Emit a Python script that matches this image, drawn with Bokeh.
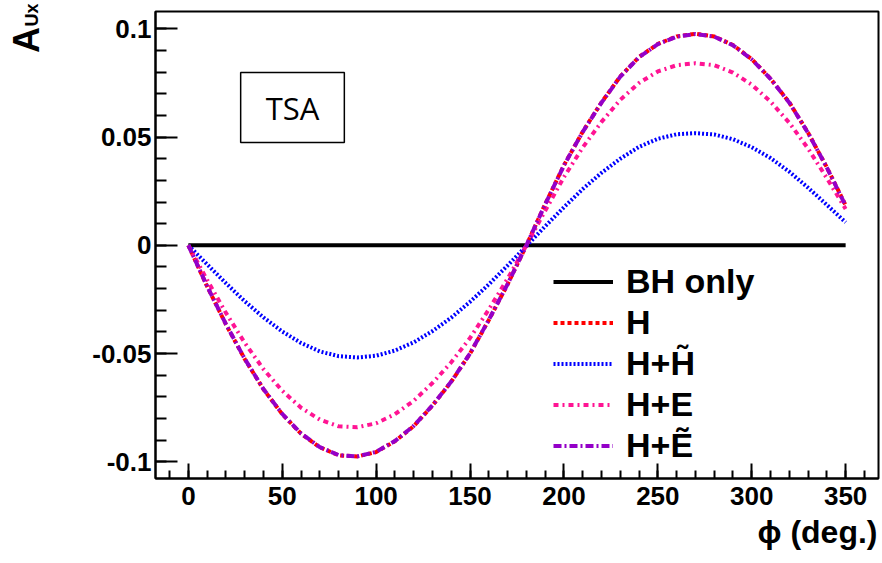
from bokeh.plotting import figure
from bokeh.models import Range1d, FixedTicker, Legend, LegendItem, Label, Title, LinearAxis
from bokeh.embed import file_html
from bokeh.resources import INLINE

phi = [0, 10, 20, 30, 40, 50, 60, 70, 80, 90, 100, 110, 120, 130, 140, 150, 160, 170,
       180, 190, 200, 210, 220, 230, 240, 250, 260, 270, 280, 290, 300, 310, 320, 330, 340, 350]

bh_only = [0.0] * 36

h = [0.0, -0.0190, -0.0365, -0.0525, -0.0665, -0.0780, -0.0870, -0.0933, -0.0970, -0.0975,
     -0.0955, -0.0905, -0.0835, -0.0740, -0.0630, -0.0500, -0.0345, -0.0180,
     0.0000, 0.0190, 0.0370, 0.0525, 0.0660, 0.0780, 0.0870, 0.0930, 0.0965, 0.0977,
     0.0965, 0.0925, 0.0860, 0.0770, 0.0660, 0.0520, 0.0360, 0.0185]

h_ht = [0.0, -0.0088, -0.0175, -0.0258, -0.0333, -0.0398, -0.0451, -0.0490, -0.0512, -0.0518,
        -0.0510, -0.0486, -0.0448, -0.0396, -0.0334, -0.0261, -0.0180, -0.0093,
        -0.0003, 0.0088, 0.0176, 0.0260, 0.0335, 0.0400, 0.0455, 0.0492, 0.0513, 0.0518,
        0.0512, 0.0490, 0.0453, 0.0403, 0.0340, 0.0266, 0.0187, 0.0106]

h_e = [0.0, -0.0160, -0.0312, -0.0450, -0.0572, -0.0672, -0.0750, -0.0805, -0.0836, -0.0840,
       -0.0822, -0.0780, -0.0718, -0.0636, -0.0540, -0.0428, -0.0296, -0.0154,
       0.0000, 0.0160, 0.0315, 0.0452, 0.0570, 0.0672, 0.0750, 0.0803, 0.0832, 0.0841,
       0.0832, 0.0798, 0.0742, 0.0664, 0.0566, 0.0447, 0.0310, 0.0168]

h_et = [0.0, -0.0189, -0.0364, -0.0524, -0.0664, -0.0779, -0.0869, -0.0932, -0.0969, -0.0975,
        -0.0954, -0.0904, -0.0834, -0.0739, -0.0629, -0.0499, -0.0344, -0.0179,
        0.0000, 0.0189, 0.0369, 0.0524, 0.0659, 0.0779, 0.0869, 0.0929, 0.0964, 0.0976,
        0.0964, 0.0924, 0.0859, 0.0769, 0.0659, 0.0519, 0.0359, 0.0183]

x_ticks = [0, 50, 100, 150, 200, 250, 300, 350]
x_minor = list(range(-10, 370, 10))
y_ticks = [-0.1, -0.05, 0.0, 0.05, 0.1]
y_tick_labels = ["-0.1", "-0.05", "0", "0.05", "0.1"]
y_minor = [round(-0.1 + 0.01 * i, 2) for i in range(21)]

labels = ["BH only", "H", "H+H\u0303", "H+E", "H+\u1EBC"]

FONT = "Liberation Sans"
NBSP = "\u00a0"

p = figure(width=882, height=563, output_backend="svg", toolbar_location=None,
           x_range=Range1d(-17.5, 367.5), y_range=Range1d(-0.1077, 0.108),
           min_border_left=155, min_border_right=4, min_border_top=11, min_border_bottom=85)
p.grid.visible = False
p.outline_line_color = "black"
p.outline_line_width = 2
p.background_fill_color = "white"
p.border_fill_color = "white"

r_bh = p.line(phi, bh_only, line_color="black", line_width=4)
r_h = p.line(phi, h, line_color="#ff0000", line_width=4, line_dash="4 3")
r_ht = p.line(phi, h_ht, line_color="#0000ff", line_width=4, line_dash="2 2")
r_e = p.line(phi, h_e, line_color="#ff1493", line_width=4, line_dash="5 4 2 4")
r_et = p.line(phi, h_et, line_color="#9400c8", line_width=4, line_dash="8 3 2 3")

xa = p.xaxis[0]
xa.ticker = FixedTicker(ticks=x_ticks, minor_ticks=x_minor)
ya = p.yaxis[0]
ya.ticker = FixedTicker(ticks=y_ticks, minor_ticks=y_minor)
ya.major_label_overrides = {t: s for t, s in zip(y_ticks, y_tick_labels)}

for ax in (xa, ya):
    ax.axis_line_width = 2
    ax.major_tick_line_width = 2
    ax.minor_tick_line_width = 2
    ax.major_tick_out = 0
    ax.minor_tick_out = 0
    ax.major_label_text_font = FONT
    ax.major_label_text_font_style = "bold"
    ax.major_label_text_font_size = "26px"
    ax.major_label_text_color = "black"
xa.major_tick_in = 15
xa.minor_tick_in = 8
xa.major_label_standoff = 8
ya.major_tick_in = 22
ya.minor_tick_in = 11
ya.major_label_standoff = 4

# y-axis title "A" (big) on the main axis, pushed toward the top with no-break spaces
ya.axis_label = NBSP * 41 + "A"
ya.axis_label_text_font = FONT
ya.axis_label_text_font_style = "bold"
ya.axis_label_text_font_size = "36px"
ya.axis_label_text_color = "black"
ya.axis_label_standoff = 42

# subscript "Ux" on an extra, otherwise invisible axis
sub_axis = LinearAxis(ticker=FixedTicker(ticks=[]), axis_line_alpha=0,
                      major_tick_in=0, major_tick_out=0, minor_tick_in=0, minor_tick_out=0,
                      major_label_standoff=0, axis_label=NBSP * 92 + "Ux",
                      axis_label_text_font=FONT, axis_label_text_font_style="bold",
                      axis_label_text_font_size="18px", axis_label_text_color="black",
                      axis_label_standoff=-38)
p.add_layout(sub_axis, "left")

legend = Legend(items=[LegendItem(label=l, renderers=[r]) for l, r in
                       zip(labels, [r_bh, r_h, r_ht, r_e, r_et])],
                location=(398, 12), padding=0, margin=0, spacing=0,
                glyph_width=60, glyph_height=41, label_height=41, label_standoff=13,
                label_text_font=FONT, label_text_font_style="bold",
                label_text_font_size="34px", label_text_color="black",
                border_line_alpha=0, background_fill_alpha=0)
p.add_layout(legend, "center")

# x-axis title
p.add_layout(Title(text="\u03D5 (deg.)", align="right", offset=1, standoff=9, text_font=FONT,
                   text_font_style="bold", text_font_size="32px", text_color="black"), "below")

p.add_layout(Label(x=137, y=371, x_units="screen", y_units="screen", text="TSA",
                   text_font="Open Sans", text_font_size="31px", text_align="center",
                   text_baseline="middle", text_color="black",
                   border_line_color="black", border_line_width=1.5,
                   background_fill_color="white", padding=(25, 14)))

open("out.html", "w").write(file_html(p, INLINE))
